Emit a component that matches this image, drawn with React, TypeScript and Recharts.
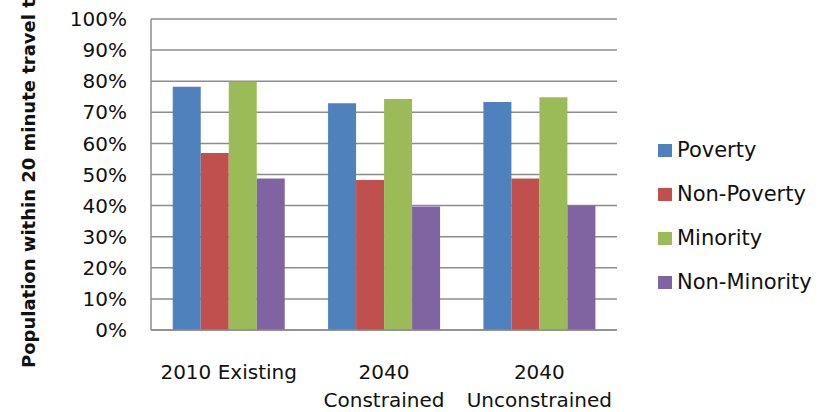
import React from "react";
import { BarChart, Bar, XAxis, YAxis, CartesianGrid, Legend } from "recharts";

const categories = ["2010 Existing", "2040 Constrained", "2040 Unconstrained"];
const tickLines = [["2010 Existing"], ["2040", "Constrained"], ["2040", "Unconstrained"]];
const poverty = [78.2, 72.9, 73.3];
const nonPoverty = [56.9, 48.2, 48.7];
const minority = [79.8, 74.3, 74.8];
const nonMinority = [48.7, 39.7, 40.0];
const yTicks = [0, 10, 20, 30, 40, 50, 60, 70, 80, 90, 100];
const yLabel = "Population within 20 minute travel time";

const series = [
  { key: "poverty", name: "Poverty", color: "#4F81BD" },
  { key: "nonPoverty", name: "Non-Poverty", color: "#C0504D" },
  { key: "minority", name: "Minority", color: "#9BBB59" },
  { key: "nonMinority", name: "Non-Minority", color: "#8064A2" },
];

const data = categories.map((c, i) => ({
  category: c,
  poverty: poverty[i],
  nonPoverty: nonPoverty[i],
  minority: minority[i],
  nonMinority: nonMinority[i],
}));

const FONT = "'DejaVu Sans', sans-serif";

const XTick = (props: any) => {
  const { x, y, index } = props;
  const lines = tickLines[index] || [String(props.payload.value)];
  return (
    <text x={x} y={y} textAnchor="middle" fontFamily={FONT} fontSize={20} fill="#111">
      {lines.map((l: string, i: number) => (
        <tspan key={i} x={x} dy={i === 0 ? 47 : 28}>
          {l}
        </tspan>
      ))}
    </text>
  );
};

const YLabel = (props: any) => {
  const { viewBox } = props;
  const bx = 35;
  const by = viewBox.y + viewBox.height + 38;
  return (
    <text
      x={bx}
      y={by}
      transform={`rotate(-90 ${bx} ${by})`}
      textAnchor="start"
      fontFamily={FONT}
      fontSize={18}
      fontWeight="bold"
      fill="#111"
    >
      {yLabel}
    </text>
  );
};

const LegendContent = () => (
  <div style={{ fontFamily: FONT, fontSize: 21, color: "#111" }}>
    {series.map((s) => (
      <div key={s.key} style={{ display: "flex", alignItems: "center", height: 44 }}>
        <div style={{ width: 14, height: 13, background: s.color, marginRight: 5 }} />
        <span>{s.name}</span>
      </div>
    ))}
  </div>
);

export default function App() {
  return (
    <div style={{ position: "absolute", left: 0, top: 0, width: 834, height: 412, background: "#fff" }}>
      <BarChart
        width={834}
        height={412}
        data={data}
        margin={{ top: 19, right: 217, bottom: 22, left: 0 }}
        barCategoryGap="14%"
        barGap={0}
      >
        <CartesianGrid vertical={false} stroke="#8c8c8c" strokeWidth={1.5} />
        <XAxis
          dataKey="category"
          height={60}
          tickLine={false}
          tickSize={0}
          tick={<XTick />}
          axisLine={{ stroke: "#8c8c8c", strokeWidth: 1.5 }}
          interval={0}
        />
        <YAxis
          width={151}
          domain={[0, 100]}
          ticks={yTicks}
          tickFormatter={(v: number) => `${v}%`}
          tickLine={false}
          tickSize={0}
          tickMargin={24}
          axisLine={{ stroke: "#8c8c8c", strokeWidth: 1.5 }}
          tick={{ fontFamily: FONT, fontSize: 20, fill: "#111" }}
          label={<YLabel />}
        />
        <Legend
          layout="vertical"
          align="center"
          verticalAlign="middle"
          content={<LegendContent />}
          wrapperStyle={{ position: "absolute", left: 658, top: 128, width: 176 }}
        />
        {series.map((s) => (
          <Bar key={s.key} dataKey={s.key} name={s.name} fill={s.color} isAnimationActive={false} />
        ))}
      </BarChart>
    </div>
  );
}
